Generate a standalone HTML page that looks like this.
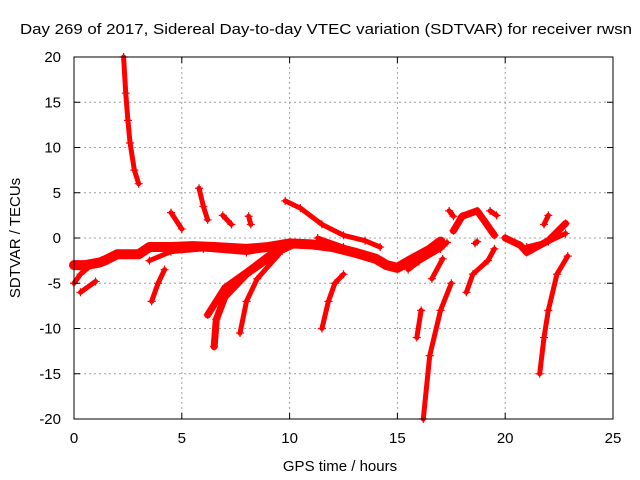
<!DOCTYPE html>
<html><head><meta charset="utf-8"><style>
body{margin:0;background:#fff}
svg{display:block;font-family:"Liberation Sans",sans-serif}
</style></head><body>
<svg id="chart" width="640" height="480">
<text x="20" y="34" font-size="15" textLength="612" lengthAdjust="spacingAndGlyphs">Day 269 of 2017, Sidereal Day-to-day VTEC variation (SDTVAR) for receiver rwsn</text>
<text x="340" y="471" font-size="15" text-anchor="middle">GPS time / hours</text>
<text transform="translate(20,238) rotate(-90)" font-size="15" text-anchor="middle">SDTVAR / TECUs</text>
<g id="grid"></g><g id="marks"></g>
<rect x="74" y="57" width="539" height="362" fill="none" stroke="#000" stroke-width="1"/>
<g id="ticks"></g>
</svg>
<script>
const xTicks=[0,5,10,15,20,25];
const yTicks=[20,15,10,5,0,-5,-10,-15,-20];
const trackA=[[2.3,20],[2.4,16],[2.5,13],[2.6,10.5],[2.8,7.5],[3.0,6]];
const trackMain=[[0,-3],[0.5,-3],[1.2,-2.7],[1.5,-2.4],[2,-1.8],[3,-1.8],[3.5,-1],[4.5,-1],[5.5,-0.9],[6.5,-1],[8,-1.2],[9,-1],[10,-0.6],[11,-0.7],[12,-1],[13,-1.6],[14,-2.3],[14.5,-3],[15,-3.3],[15.5,-2.6],[16.5,-1.3],[17,-0.4]];
const trackMain2=[[3.5,-2.5],[4.5,-1.5],[6,-1.2],[8,-1.6],[9,-1.2]];
const trackC1=[[0,-5],[0.3,-4],[0.8,-3]];
const trackC2=[[0.3,-6],[1,-4.8]];
const trackD=[[3.6,-7],[3.9,-5],[4.2,-3.5]];
const trackE=[[4.5,2.8],[5,1]];
const trackF=[[5.8,5.5],[6,3.5],[6.2,2]];
const trackG=[[6.9,2.5],[7.3,1.5]];
const trackH=[[8.1,2.4],[8.2,1.5]];
const trackI=[[6.5,-12],[6.6,-9],[7.0,-6.5],[8,-4],[9.5,-1.5],[10.3,-0.6]];
const trackI2=[[6.2,-8.5],[7,-5.5],[8,-3.8],[9,-2],[10,-0.8]];
const trackJ=[[7.7,-10.5],[8,-7],[8.5,-4.5],[9.5,-1.8]];
const trackK=[[9.8,4.1],[10.5,3.3],[11.5,1.5],[12.5,0.3],[13.5,-0.3],[14.2,-1]];
const trackK2=[[11.3,0],[12.5,-1],[13.5,-2]];
const trackL=[[11.5,-10],[11.8,-7],[12.1,-5],[12.5,-4]];
const trackM=[[15.5,-3.5],[16,-2.6],[17,-1.2],[17.3,-0.5]];
const trackN=[[15.9,-11],[16.1,-8]];
const trackO=[[16.2,-20],[16.5,-13],[17,-8],[17.5,-5]];
const trackO2=[[16.6,-4.5],[17.1,-2.3]];
const trackP=[[17.4,3],[17.6,2.4]];
const trackQ=[[17.6,0.8],[18,2.4],[18.7,3],[19,2],[19.5,0.3]];
const trackR=[[19.3,3],[19.6,2.5]];
const trackS=[[18.2,-6],[18.5,-4],[19.2,-2.5],[19.5,-1.2]];
const trackT=[[20,0],[20.7,-0.8],[21,-1.6],[22,-0.3],[22.8,1.6]];
const trackT2=[[21,-1],[22,-0.4],[22.8,0.5]];
const trackU=[[21.6,-15],[21.8,-11],[22,-8],[22.4,-4],[22.9,-2]];
const trackV=[[21.8,1.5],[22,2.5]];
const trackW=[[18.6,-0.6],[18.7,-0.4]];
const tracks=[trackA,trackMain,trackMain2,trackC1,trackC2,trackD,trackE,trackF,trackG,trackH,trackI,trackI2,trackJ,trackK,trackK2,trackL,trackM,trackN,trackO,trackO2,trackP,trackQ,trackR,trackS,trackT,trackT2,trackU,trackV,trackW];
const NS='http://www.w3.org/2000/svg';
const X0=74,X1=613,Y0=419,Y1=57;
function xs(t){return X0+(t-0)/(25-0)*(X1-X0);}
function ys(v){return Y0-(v+20)/40*(Y0-Y1);}
const grid=document.getElementById('grid'),ticks=document.getElementById('ticks'),marks=document.getElementById('marks');
function mk(tag,at,parent){const e=document.createElementNS(NS,tag);for(const k in at)e.setAttribute(k,at[k]);parent.appendChild(e);return e;}
xTicks.forEach(t=>{const x=xs(t);
 if(t>0&&t<25){const g=mk('line',{x1:x,x2:x,y1:Y1,y2:Y0,stroke:'#a0a0a0','stroke-dasharray':'2,3'},grid);
 
 }
 const a=mk('line',{x1:x,x2:x,y1:Y0,y2:Y0-6,stroke:'#000'},ticks);
 
 
 const b=mk('line',{x1:x,x2:x,y1:Y1,y2:Y1+6,stroke:'#000'},ticks);
 
 
 const l=mk('text',{x:x,y:443,'font-size':15,'text-anchor':'middle'},ticks);l.textContent=t;
 
 });
yTicks.forEach(v=>{const y=ys(v);
 if(v>-20&&v<20){const g=mk('line',{x1:X0,x2:X1,y1:y,y2:y,stroke:'#a0a0a0','stroke-dasharray':'2,3'},grid);
 
 }
 const a=mk('line',{x1:X0,x2:X0+6,y1:y,y2:y,stroke:'#000'},ticks);
 
 
 const b=mk('line',{x1:X1,x2:X1-6,y1:y,y2:y,stroke:'#000'},ticks);
 
 
 const l=mk('text',{x:61,y:y+5,'font-size':15,'text-anchor':'end'},ticks);l.textContent=v;
 
 });
tracks.forEach((tr,i)=>{
 const pts=tr.map(p=>xs(p[0])+','+ys(p[1])).join(' ');
 const w=(tr===trackMain)?10:(tr===trackI||tr===trackI2||tr===trackQ||tr===trackT)?7:5;
 const pl=mk('polyline',{points:pts,fill:'none',stroke:'#ff0000','stroke-width':w,'stroke-linejoin':'round','stroke-linecap':'round'},marks);
 
 
 tr.forEach(p=>{const x=xs(p[0]),y=ys(p[1]);
  const m=mk('path',{d:`M${x-4},${y}H${x+4}M${x},${y-4}V${y+4}`,stroke:'#ff0000','stroke-width':1.2},marks);
  
  });
});
</script>
</body></html>
